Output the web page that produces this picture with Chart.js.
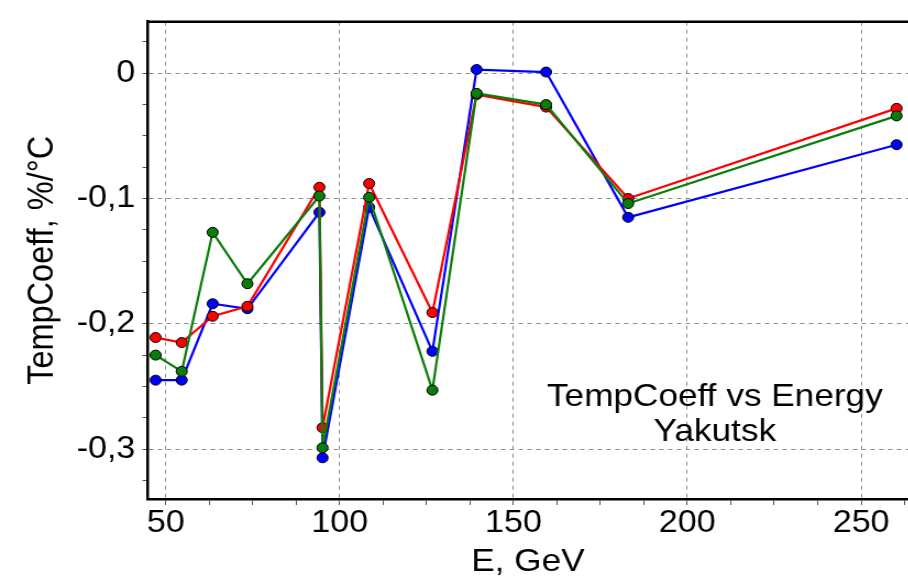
<!DOCTYPE html>
<html lang="en">
<head>
  <meta charset="UTF-8">
  <title>TempCoeff vs Energy</title>
  <script src="https://cdn.jsdelivr.net/npm/chart.js"></script>
  <style>
    html, body { margin: 0; padding: 0; background: #fff; overflow: hidden; }
  </style>
</head>
<body>
  <!-- drawn at 1/1.0993 width and stretched back: the original picture is a bit wide.
       canvas is a little wider than the window, the plot runs off the right edge like the original -->
  <canvas id="tcChart" width="832" height="579" style="display:block;width:914.6px;height:579px"></canvas>

  <script>
    // Energy, GeV (same points for all three curves)
    const energy = [47.1, 54.6, 63.5, 73.5, 94.2, 95.1, 108.5, 126.7, 139.4, 159.4, 183.0, 260.2];

    // Temperature coefficient, %/°C
    const tcBlue  = [-0.245, -0.245, -0.184, -0.188, -0.111, -0.307, -0.107, -0.222,  0.003,  0.001, -0.115, -0.057];
    const tcRed   = [-0.211, -0.215, -0.194, -0.186, -0.091, -0.283, -0.088, -0.191, -0.017, -0.027, -0.100, -0.028];
    const tcGreen = [-0.225, -0.238, -0.127, -0.168, -0.098, -0.299, -0.099, -0.253, -0.016, -0.025, -0.104, -0.034];

    // axis ticks
    const xMajor = [50, 100, 150, 200, 250];
    const yMajor = [0, -0.1, -0.2, -0.3];
    const xMinorStep = 12.5;
    const yMinorStep = 0.025;

    const noteLines = ['TempCoeff vs Energy', 'Yakutsk'];

    const FONT = '"Liberation Sans", Arial, sans-serif';

    function toPoints(ys) {
      return energy.map((e, i) => ({ x: e, y: ys[i] }));
    }

    function series(label, ys, color) {
      return {
        label: label,
        data: toPoints(ys),
        borderColor: color,
        backgroundColor: color,
        borderWidth: 2.2,
        pointRadius: 5,
        pointBorderColor: '#000',
        pointBorderWidth: 1,
        pointBackgroundColor: color,
        tension: 0,
        fill: false
      };
    }

    const xTickValues = [];
    for (let v = 50; v <= 262.5; v += xMinorStep) xTickValues.push(v);
    const yTickValues = [];
    for (let i = -13; i <= 1; i++) yTickValues.push(Math.round(i * yMinorStep * 1000) / 1000);

    const isMajorX = v => xMajor.includes(v);
    const isMajorY = v => yMajor.some(m => Math.abs(m - v) < 1e-9);

    // top frame line + the note inside the plot
    const frameAndNote = {
      id: 'frameAndNote',
      afterDraw(chart) {
        const { ctx, chartArea: a } = chart;
        ctx.save();
        ctx.strokeStyle = '#000';
        ctx.lineWidth = 2.5;
        ctx.beginPath();
        ctx.moveTo(a.left, a.top);
        ctx.lineTo(a.right, a.top);
        ctx.stroke();

        ctx.fillStyle = '#000';
        ctx.font = '32px ' + FONT;
        ctx.textAlign = 'center';
        ctx.textBaseline = 'middle';
        ctx.fillText(noteLines[0], 650, 397);
        ctx.fillText(noteLines[1], 650, 432);
        ctx.restore();
      }
    };

    const chart = new Chart(document.getElementById('tcChart'), {
      type: 'line',
      data: {
        // green drawn on top, then red, then blue
        datasets: [
          series('Green', tcGreen, '#0a7d0a'),
          series('Red', tcRed, '#ff0000'),
          series('Blue', tcBlue, '#0000ff')
        ]
      },
      options: {
        responsive: false,
        animation: false,
        devicePixelRatio: 1,
        layout: { padding: { top: 21.7, right: 0, bottom: 0, left: 0 } },
        plugins: {
          legend: { display: false },
          tooltip: { enabled: false }
        },
        scales: {
          x: {
            type: 'linear',
            min: 44.72,
            max: 263.6,
            afterBuildTicks: axis => { axis.ticks = xTickValues.map(v => ({ value: v })); },
            afterFit: axis => { axis.height = 80; axis.paddingLeft = 0; axis.paddingRight = 0; },
            ticks: {
              autoSkip: false,
              maxRotation: 0,
              padding: 0,
              color: '#000',
              font: { family: FONT, size: 31 },
              callback: v => isMajorX(v) ? String(v) : ''
            },
            grid: {
              color: c => c.tick && isMajorX(c.tick.value) ? '#8a8a8a' : 'rgba(0,0,0,0)',
              lineWidth: 1,
              tickColor: '#555',
              tickLength: 6,
              tickWidth: 1
            },
            border: { display: true, color: '#000', width: 2.5, dash: [4, 4] },
            title: {
              display: true,
              text: 'E, GeV',
              color: '#000',
              font: { family: FONT, size: 32 },
              padding: { top: 0, bottom: -2 }
            }
          },
          y: {
            type: 'linear',
            min: -0.3399,
            max: 0.0412,
            afterBuildTicks: axis => { axis.ticks = yTickValues.map(v => ({ value: v })); },
            afterFit: axis => { axis.width = 134; axis.paddingTop = 0; axis.paddingBottom = 0; },
            ticks: {
              autoSkip: false,
              padding: 6.4,
              color: '#000',
              font: { family: FONT, size: 31 },
              callback: v => isMajorY(v) ? (v === 0 ? '0' : v.toFixed(1).replace('.', ',')) : ''
            },
            grid: {
              color: c => c.tick && isMajorY(c.tick.value) ? '#8a8a8a' : 'rgba(0,0,0,0)',
              lineWidth: 1,
              tickColor: '#555',
              tickLength: 4.5,
              tickWidth: 1
            },
            border: { display: true, color: '#000', width: 2.5, dash: [4, 4] },
            title: {
              display: true,
              text: 'TempCoeff, %/°C',
              color: '#000',
              font: { family: FONT, size: 32.5 },
              padding: { top: 20, bottom: 0 }
            }
          }
        }
      },
      plugins: [frameAndNote]
    });
  </script>
</body>
</html>
